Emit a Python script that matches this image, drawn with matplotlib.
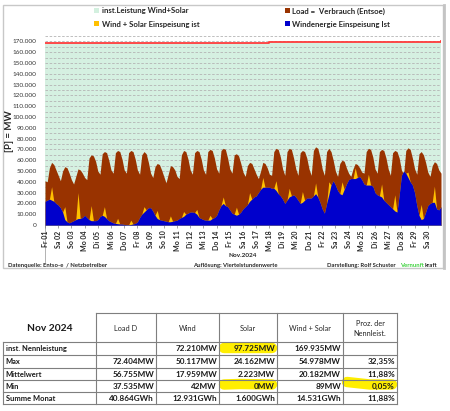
import numpy as np
import matplotlib
matplotlib.use('Agg')
import matplotlib.pyplot as plt
from matplotlib.patches import Rectangle
from matplotlib.ticker import FuncFormatter, MultipleLocator

plt.rcParams['font.family'] = ['Lato', 'DejaVu Sans']

day_labels = ['Fr 01', 'Sa 02', 'So 03', 'Mo 04', 'Di 05', 'Mi 06', 'Do 07', 'Fr 08',
              'Sa 09', 'So 10', 'Mo 11', 'Di 12', 'Mi 13', 'Do 14', 'Fr 15', 'Sa 16',
              'So 17', 'Mo 18', 'Di 19', 'Mi 20', 'Do 21', 'Fr 22', 'Sa 23', 'So 24',
              'Mo 25', 'Di 26', 'Mi 27', 'Do 28', 'Fr 29', 'Sa 30']

# 4-hourly readings (00, 04, 08, 12, 16, 20 h) in thousand MW, last value = Dec 1 00h
load_k = [41, 40, 53, 58, 56, 51,
          46, 41, 50, 54, 53, 48,
          42, 38, 45, 52, 51, 48,
          44, 42, 62, 65, 64, 59,
          50, 47, 66, 68, 67, 60,
          51, 48, 67, 69, 68, 61,
          51, 48, 67, 69, 68, 61,
          51, 47, 65, 68, 66, 58,
          48, 44, 54, 57, 56, 51,
          45, 39, 47, 55, 54, 51,
          45, 43, 65, 69, 68, 61,
          51, 47, 67, 69, 68, 61,
          51, 47, 68, 70, 69, 62,
          52, 48, 69, 71, 70, 62,
          52, 48, 65, 66, 64, 57,
          49, 45, 55, 58, 57, 52,
          47, 43, 50, 58, 57, 53,
          47, 46, 68, 71, 70, 63,
          52, 46, 68, 71, 70, 62,
          52, 46, 67, 69, 68, 62,
          52, 46, 69, 72.4, 71, 63,
          52, 46, 68, 71, 68, 60,
          50, 45, 57, 60, 59, 53,
          48, 45, 52, 57, 56, 53,
          49, 48, 68, 71, 70, 63,
          52, 48, 68, 70, 69, 62,
          52, 46, 67, 69, 68, 62,
          51, 47, 69, 71.5, 70, 62,
          52, 47, 66, 68, 65, 58,
          49, 45, 55, 58.6, 57, 51,
          48]

wind_k = [22, 23, 24, 23, 22, 20,
          18.5, 16, 12, 5, 3, 2,
          3, 4, 5, 6, 6, 7,
          9, 7, 5, 4, 4, 4,
          5, 8, 9, 8, 6, 4,
          3, 2, 1.5, 1.2, 1, 1,
          0.5, 0.3, 0.2, 0.5, 1, 1.5,
          3, 7, 10, 12, 14, 16,
          16, 13, 9, 6, 5, 4.5,
          4, 3.5, 3, 3, 3.5, 4,
          4.5, 6, 7, 8, 10, 11,
          12, 12, 11.5, 10, 7, 6,
          5, 4.5, 4.5, 4.5, 6, 7,
          9, 14, 18, 20, 18, 17,
          14, 11, 10, 9, 10, 12,
          15, 17, 19, 22, 24, 26,
          27, 30, 33, 35, 35, 35,
          35, 34, 34, 32, 29, 27,
          24, 20, 23, 26, 27, 28,
          26, 23, 20, 21, 23, 25,
          25, 25, 27, 29, 26, 21,
          15, 11, 20, 28, 37, 41,
          37, 32, 29, 28, 33, 38,
          42, 43, 43, 43, 44, 45,
          42, 38, 37, 37, 37, 36,
          30, 28, 27, 26, 23, 21,
          19, 17, 15, 13, 12, 28,
          46, 50, 48, 44, 40, 37,
          30, 18, 9, 5, 6, 12,
          18, 20, 21, 21, 15, 14,
          17]

# solar peak at noon of each day (thousand MW)
solar_noon_k = [12.5, 12, 24, 14, 9, 5, 4, 5, 7.5, 5.5, 4.5, 4.5, 4.5, 6, 7.5,
                8, 9, 9, 8, 10, 10, 12, 12, 10, 10, 12, 15, 5, 14, 15]

# installed capacity wind+solar (MW), step dates in days
cap_days = [0, 13, 17, 22, 27, 30]
cap_mw = [168600, 168900, 169200, 169400, 169700, 169935]

# table
tab_cols = ['Load D', 'Wind', 'Solar', 'Wind + Solar', 'Proz. der\nNennleist.']
tab_rows = ['inst. Nennleistung', 'Max', 'Mittelwert', 'Min', 'Summe Monat']
tab_vals = [['', '72.210MW', '97.725MW', '169.935MW', ''],
            ['72.404MW', '50.117MW', '24.162MW', '54.978MW', '32,35%'],
            ['56.755MW', '17.959MW', '2.223MW', '20.182MW', '11,88%'],
            ['37.535MW', '42MW', '0MW', '89MW', '0,05%'],
            ['40.864GWh', '12.931GWh', '1.600GWh', '14.531GWh', '11,88%']]

# ---------------- build series on the 4h grid
n = len(load_k)
t = np.arange(n) / 6.0
load = np.array(load_k) * 1000
wind = np.array(wind_k) * 1000
solar = np.zeros(n)
for d, v in enumerate(solar_noon_k):
    solar[d * 6 + 3] = v * 1000
wind_solar = wind + solar

W, H = 450, 411
fig = plt.figure(figsize=(W / 100, H / 100), dpi=100)

# overlay axes in pixel coordinates
ax0 = fig.add_axes([0, 0, 1, 1], zorder=0)
ax0.set_xlim(0, W)
ax0.set_ylim(H, 0)
ax0.axis('off')

# chart frame
ax0.add_patch(Rectangle((3, 5), 440, 263, fill=False, ec='#c8c8c8', lw=1))
ax0.plot([443.5, 443.5], [5, 268], color='#c4c4c4', lw=2)

# legend
leg = [(94, 11, '#d3f0df', 'inst.Leistung Wind+Solar'),
       (285, 11, '#993300', 'Load =  Verbrauch (Entsoe)'),
       (94, 24, '#ffc000', 'Wind + Solar Einspeisung ist'),
       (285, 24, '#0000cc', 'Windenergie Einspeisung Ist')]
for x, y, c, s in leg:
    ax0.add_patch(Rectangle((x, y - 2.5), 5, 5, color=c, lw=0))
    ax0.text(x + 7.5, y, s, fontsize=5.6, fontweight='bold', va='center', ha='left',
             color='#262626')

# y label
ax0.text(9, 131, '[P] = MW', rotation=90, fontsize=7, fontweight='bold', va='center',
         ha='center', color='#262626')
# extended left tick
ax0.plot([45, 45], [225, 262], color='#a6a6a6', lw=0.6)

ax0.text(243, 255, 'Nov.2024', fontsize=4.6, fontweight='bold', ha='center', va='center',
         color='#262626')
fs_b = 4.2
ax0.text(8, 265, 'Datenquelle: Entso-e  / Netzbetreiber', fontsize=fs_b, fontweight='bold',
         va='center', color='#262626')
ax0.text(193, 265, 'Auflösung: Viertelstundenwerte', fontsize=fs_b, fontweight='bold',
         va='center', color='#262626')
ax0.text(327, 265, 'Darstellung: Rolf Schuster', fontsize=fs_b, fontweight='bold',
         va='center', color='#262626')
ax0.text(400, 265, 'Vernunft', fontsize=fs_b, fontweight='bold', va='center',
         color='#3dd13d')
ax0.text(425, 265, 'kraft', fontsize=fs_b, fontweight='bold', va='center', color='#262626')

# ---------------- table
xe = [3, 96, 156, 219, 277, 343, 397]
ye = [313, 342, 355, 368, 380, 392, 404]
hl = '#ffee00'
# highlights
ax0.plot([224, 272], [348, 348], color=hl, lw=7.5, solid_capstyle='round', zorder=1)
ax0.plot([224, 240, 272], [384.5, 384, 384.5], color=hl, lw=7.5, solid_capstyle='round', zorder=1)
ax0.plot([347, 370, 392], [382, 384.5, 384.5], color=hl, lw=7.5, solid_capstyle='round', zorder=1)

lc = '#7f7f7f'
ax0.plot([xe[1], xe[-1]], [ye[0], ye[0]], color=lc, lw=0.8, zorder=2)
for y in ye[1:]:
    ax0.plot([xe[0], xe[-1]], [y, y], color=lc, lw=0.8, zorder=2)
ax0.plot([xe[0], xe[0]], [ye[1], ye[-1]], color=lc, lw=0.8, zorder=2)
for x in xe[1:]:
    ax0.plot([x, x], [ye[0], ye[-1]], color=lc, lw=0.8, zorder=2)

ax0.text((xe[0] + xe[1]) / 2, 328, 'Nov 2024', fontsize=7.4, fontweight='bold',
         ha='center', va='center', color='#1a1a1a', zorder=3)
for j, c in enumerate(tab_cols):
    ax0.text((xe[j + 1] + xe[j + 2]) / 2, 328, c, fontsize=5.3, ha='center', va='center',
             color='#262626', linespacing=1.5, zorder=3)
for i, r in enumerate(tab_rows):
    yc = (ye[i + 1] + ye[i + 2]) / 2
    ax0.text(xe[0] + 2.5, yc, r, fontsize=5.4, fontweight='bold', ha='left', va='center',
             color='#1a1a1a', zorder=3)
    for j, v in enumerate(tab_vals[i]):
        if v:
            ax0.text(xe[j + 2] - 2, yc, v, fontsize=5.9, fontweight='bold', ha='right',
                     va='center', color='#1a1a1a', zorder=3)

# ---------------- main plot
ax = fig.add_axes([45 / W, 1 - 225 / H, (441 - 45) / W, (225 - 36) / H], zorder=2)
ax.patch.set_alpha(0)
ax.set_xlim(0, 30)
ax.set_ylim(0, 175000)

ax.fill_between(cap_days, 0, cap_mw, step='post', color='#d5f0e1', lw=0, zorder=0.2)
ax.step(cap_days, cap_mw, where='post', color='#ff3b3b', lw=1.3, zorder=4)
ax.fill_between(t, 0, load, color='#993300', lw=0, zorder=1)
ax.fill_between(t, 0, wind_solar, color='#ffc000', lw=0, zorder=2)
ax.fill_between(t, 0, wind, color='#0000cc', lw=0, zorder=3)

ax.set_axisbelow(True)
ax.yaxis.set_major_locator(MultipleLocator(10000))
ax.yaxis.set_minor_locator(MultipleLocator(5000))
ax.yaxis.grid(True, which='both', color='#b4b4b4', lw=0.6, ls=(0, (3, 2)))
ax.yaxis.set_major_formatter(FuncFormatter(lambda v, p: f'{int(v):,}'.replace(',', '.')))
ax.tick_params(axis='y', which='both', length=0, labelsize=4.6, labelcolor='#333333', pad=6)

ax.set_xticks(np.arange(30))
ax.set_xticklabels(day_labels, rotation=90, fontsize=5, fontweight='bold', color='#262626')
ax.tick_params(axis='x', length=2, width=0.5, color='#808080', pad=2)

for s in ['top', 'right', 'left']:
    ax.spines[s].set_visible(False)
ax.spines['bottom'].set_color('#808080')
ax.spines['bottom'].set_linewidth(0.6)

fig.savefig('out.png', dpi=100)
